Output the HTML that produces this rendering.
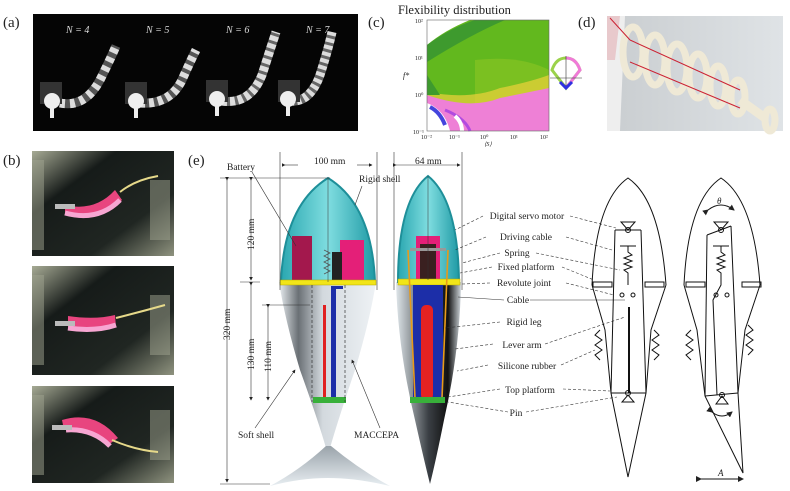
<!DOCTYPE html>
<html><head><meta charset="utf-8"><style>
html,body{margin:0;padding:0;background:#fff;}
svg{display:block;}
text{font-family:"Liberation Serif",serif;fill:#222;}
</style></head><body>
<svg width="790" height="491" viewBox="0 0 790 491" xmlns="http://www.w3.org/2000/svg">
<defs>
<linearGradient id="body1" x1="0" x2="1" y1="0" y2="0">
<stop offset="0" stop-color="#e8edf0"/><stop offset="0.2" stop-color="#6a7075"/><stop offset="0.45" stop-color="#d3d9de"/><stop offset="1" stop-color="#eef2f5"/></linearGradient>
<linearGradient id="body2" x1="0" x2="1"><stop offset="0" stop-color="#dfe6ea"/><stop offset="0.5" stop-color="#3a3f44"/><stop offset="0.8" stop-color="#111"/><stop offset="1" stop-color="#cfd6db"/></linearGradient>
<linearGradient id="cyan" x1="0" x2="1"><stop offset="0" stop-color="#2aa7b0"/><stop offset="0.5" stop-color="#7fdde0"/><stop offset="1" stop-color="#1f9aa5"/></linearGradient>
<linearGradient id="fin" x1="0" x2="0" y1="0" y2="1"><stop offset="0" stop-color="#9aa3aa"/><stop offset="1" stop-color="#e8eef2"/></linearGradient>
<linearGradient id="ph" x1="0" x2="1" y1="0" y2="1"><stop offset="0" stop-color="#a7ab95"/><stop offset="0.3" stop-color="#161b19"/><stop offset="0.7" stop-color="#202622"/><stop offset="1" stop-color="#8f937f"/></linearGradient>
<linearGradient id="dph" x1="0" x2="1"><stop offset="0" stop-color="#c9cdd0"/><stop offset="1" stop-color="#dfe3e6"/></linearGradient>
<marker id="ah" markerWidth="6" markerHeight="6" refX="5" refY="3" orient="auto"><path d="M0,0 L6,3 L0,6 z" fill="#222"/></marker>
</defs>

<!-- (a) -->
<text x="3" y="27" font-size="15">(a)</text>
<rect x="33" y="14" width="325" height="117" fill="#050505"/>
<g font-size="10" font-style="italic" font-family="Liberation Sans,sans-serif">
<text x="66" y="33" style="fill:#ddd">N = 4</text><text x="146" y="33" style="fill:#ddd">N = 5</text>
<text x="226" y="33" style="fill:#ddd">N = 6</text><text x="306" y="33" style="fill:#ddd">N = 7</text></g>
<g fill="none">
<path d="M60,103 Q85,108 100,80 Q110,60 116,46" stroke="#555" stroke-width="9"/>
<path d="M60,103 Q85,108 100,80 Q110,60 116,46" stroke="#ddd" stroke-width="9" stroke-dasharray="5 5"/>
<path d="M140,103 Q170,105 182,80 Q190,62 196,50" stroke="#555" stroke-width="9"/>
<path d="M140,103 Q170,105 182,80 Q190,62 196,50" stroke="#ddd" stroke-width="9" stroke-dasharray="5 4"/>
<path d="M222,101 Q250,105 262,75 Q270,50 276,32" stroke="#666" stroke-width="9"/>
<path d="M222,101 Q250,105 262,75 Q270,50 276,32" stroke="#ddd" stroke-width="9" stroke-dasharray="5 3"/>
<path d="M290,101 Q310,103 320,75 Q328,50 332,32" stroke="#666" stroke-width="9"/>
<path d="M290,101 Q310,103 320,75 Q328,50 332,32" stroke="#ddd" stroke-width="9" stroke-dasharray="4 3"/>
</g>
<g fill="#333"><rect x="40" y="82" width="22" height="22"/><rect x="125" y="82" width="22" height="22"/><rect x="206" y="80" width="22" height="22"/><rect x="278" y="80" width="22" height="22"/></g>
<g fill="#eee"><circle cx="52" cy="101" r="8"/><circle cx="136" cy="101" r="8"/><circle cx="217" cy="99" r="8"/><circle cx="288" cy="99" r="8"/>
<rect x="50" y="104" width="4" height="14"/><rect x="134" y="104" width="4" height="14"/><rect x="215" y="102" width="4" height="14"/><rect x="286" y="102" width="4" height="14"/></g>

<!-- (b) -->
<text x="3" y="165" font-size="15">(b)</text>
<g>
<rect x="32" y="151" width="142" height="105" fill="url(#ph)"/>
<rect x="32" y="266" width="142" height="109" fill="url(#ph)"/>
<rect x="32" y="386" width="142" height="97" fill="url(#ph)"/>
<g fill="#9fa38f" opacity="0.5"><rect x="150" y="180" width="20" height="60"/><rect x="150" y="295" width="20" height="60"/><rect x="150" y="410" width="20" height="50"/><rect x="32" y="160" width="12" height="90"/><rect x="32" y="275" width="12" height="90"/><rect x="32" y="395" width="12" height="80"/></g>
<path d="M65,205 Q95,212 115,190 L122,200 Q98,225 65,215 z" fill="#e8457f"/>
<path d="M65,213 Q98,222 120,200" stroke="#f7a6d2" stroke-width="5" fill="none"/>
<path d="M120,192 Q135,180 158,176" stroke="#e6d98a" stroke-width="2" fill="none"/>
<path d="M68,316 Q95,320 115,315 L116,327 Q95,333 68,330 z" fill="#e8457f"/>
<path d="M68,328 Q95,332 116,325" stroke="#f7a6d2" stroke-width="5" fill="none"/>
<path d="M116,318 Q140,312 165,305" stroke="#e6d98a" stroke-width="2" fill="none"/>
<path d="M62,420 Q95,410 118,438 L108,445 Q92,425 64,430 z" fill="#e8457f"/>
<path d="M66,430 Q92,428 110,446" stroke="#f7a6d2" stroke-width="5" fill="none"/>
<path d="M112,440 Q135,450 158,452" stroke="#e6d98a" stroke-width="2" fill="none"/>
<rect x="55" y="204" width="20" height="5" fill="#bbb"/><rect x="55" y="321" width="20" height="5" fill="#bbb"/><rect x="52" y="425" width="20" height="5" fill="#bbb"/>
</g>

<!-- (c) -->
<text x="368" y="27" font-size="15">(c)</text>
<text x="398" y="14" font-size="12.5">Flexibility distribution</text>
<rect x="427" y="20" width="122" height="111" fill="#62b81e"/>
<path d="M427,20 L470,20 Q445,30 427,45 z" fill="#fff"/>
<path d="M427,45 Q450,28 475,20 L505,20 Q470,35 427,62 z" fill="#3e9a2e"/>
<path d="M475,60 Q520,55 549,70 L549,131 L475,131 z" fill="#8cc523" opacity="0.6"/>
<path d="M427,92 Q470,100 500,88 Q530,82 549,75 L549,131 L427,131 z" fill="#eed13a" opacity="0.7"/>
<path d="M427,95 Q470,110 500,98 Q530,92 549,88 L549,131 L427,131 z" fill="#ee80d6"/>
<path d="M427,75 L440,95 L427,95 z" fill="#3e9a2e"/>
<path d="M427,103 Q445,110 450,131 L427,131 z" fill="#fff"/>
<path d="M430,107 Q440,112 445,125" stroke="#4444dd" stroke-width="4" fill="none"/>
<path d="M445,110 Q465,118 470,131" stroke="#b24be0" stroke-width="3" fill="none"/>
<path d="M455,116 Q462,122 462,131" stroke="#fff" stroke-width="4" fill="none"/>
<rect x="427" y="20" width="122" height="111" fill="none" stroke="#666" stroke-width="0.6"/>
<g font-size="6"><text x="415" y="23">10²</text><text x="415" y="60">10¹</text><text x="415" y="97">10⁰</text><text x="413" y="134">10⁻¹</text>
<text x="421" y="139">10⁻²</text><text x="449" y="139">10⁻¹</text><text x="480" y="139">10⁰</text><text x="510" y="139">10¹</text><text x="540" y="139">10²</text>
<text x="484" y="146" font-style="italic">⟨S⟩</text><text x="403" y="78" font-size="8" font-style="italic">f*</text></g>
<path d="M552,70 Q556,58 566,58 Q576,58 580,70 L566,88 z" fill="none" stroke="#9bd24a" stroke-width="3"/>
<path d="M566,58 Q576,58 580,70 L566,88" fill="none" stroke="#f07ad8" stroke-width="3"/>
<path d="M560,82 L566,88 L572,82" fill="none" stroke="#3030e0" stroke-width="3"/>
<line x1="566" y1="56" x2="566" y2="86" stroke="#333" stroke-width="0.6"/><line x1="550" y1="78" x2="582" y2="78" stroke="#333" stroke-width="0.6"/>

<!-- (d) -->
<text x="578" y="27" font-size="15">(d)</text>
<rect x="607" y="16" width="176" height="115" fill="url(#dph)"/>
<path d="M607,16 L625,16 L620,131 L607,131 z" fill="#eee"/>
<path d="M607,16 L620,16 L615,60 L607,60 z" fill="#e8c9cc"/>
<g fill="none" stroke="#efe9d6" stroke-width="7">
<ellipse cx="633" cy="52" rx="10" ry="25"/><ellipse cx="655" cy="60" rx="10" ry="25"/><ellipse cx="677" cy="68" rx="10" ry="24"/>
<ellipse cx="698" cy="76" rx="9" ry="22"/><ellipse cx="718" cy="86" rx="8" ry="20"/><ellipse cx="738" cy="97" rx="7" ry="17"/>
<path d="M740,100 L765,118" stroke-width="9"/><ellipse cx="770" cy="120" rx="5" ry="11"/></g>
<g stroke="#cc2233" stroke-width="1" fill="none"><path d="M630,40 L740,90"/><path d="M630,62 L740,108"/><path d="M610,18 L630,40"/></g>

<!-- (e) -->
<text x="188" y="165" font-size="15">(e)</text>
<!-- fish 1 -->
<path d="M279,282 Q285,320 300,370 Q318,420 326,448 L330,448 Q338,420 355,370 Q370,320 376,282 z" fill="url(#body1)"/>
<path d="M326,446 Q300,470 270,486 Q300,478 328,478 Q356,478 390,486 Q360,470 331,446 z" fill="url(#fin)"/>
<path d="M281,282 Q284,205 328,178 Q372,205 375,282 z" fill="url(#cyan)" stroke="#1e8f99" stroke-width="2"/>
<rect x="292" y="236" width="20" height="46" fill="#a3184d"/>
<rect x="340" y="240" width="24" height="42" fill="#e41f78"/><rect x="332" y="252" width="10" height="30" fill="#222"/>
<path d="M324,250 l6,3 -6,3 6,3 -6,3 6,3 -6,3 6,3 -6,3" stroke="#555" fill="none" stroke-width="0.8"/>
<rect x="280" y="280" width="96" height="5" fill="#f2e518" stroke="#b5a800" stroke-width="0.5"/>
<rect x="331" y="286" width="5" height="116" fill="#1c2ea8"/><rect x="331" y="286" width="12" height="3" fill="#1c2ea8"/>
<rect x="323" y="305" width="3" height="97" fill="#e02020"/>
<rect x="313" y="397" width="33" height="6" fill="#38b03a"/>
<line x1="312" y1="285" x2="312" y2="402" stroke="#333" stroke-dasharray="3 2" stroke-width="0.7"/>
<line x1="345" y1="285" x2="345" y2="402" stroke="#333" stroke-dasharray="3 2" stroke-width="0.7"/>
<line x1="328" y1="178" x2="328" y2="282" stroke="#333" stroke-width="0.5"/>
<!-- fish 2 -->
<path d="M396,282 Q398,350 415,420 Q424,460 430,484 Q436,460 444,420 Q460,350 461,282 z" fill="url(#body2)"/>
<path d="M398,282 Q398,200 428,176 Q458,200 459,282 z" fill="url(#cyan)" stroke="#1e8f99" stroke-width="2"/>
<rect x="416" y="236" width="24" height="44" fill="#e41f78"/><rect x="420" y="244" width="16" height="36" fill="#3a2020"/>
<rect x="410" y="248" width="36" height="3" fill="#999"/>
<rect x="398" y="279" width="62" height="6" fill="#f2e518" stroke="#b5a800" stroke-width="0.5"/>
<rect x="413" y="285" width="30" height="115" fill="#1c2ea8"/>
<rect x="421" y="305" width="12" height="95" rx="5" fill="#e52222"/>
<line x1="408" y1="250" x2="415" y2="398" stroke="#e79a1a" stroke-width="1.6"/><line x1="448" y1="250" x2="442" y2="398" stroke="#e79a1a" stroke-width="1.6"/>
<rect x="410" y="397" width="35" height="6" fill="#38b03a"/>
<line x1="428" y1="176" x2="428" y2="280" stroke="#333" stroke-width="0.5"/>
<!-- dimensions -->
<g stroke="#333" stroke-width="0.6" fill="none">
<line x1="280" y1="152" x2="280" y2="290"/><line x1="377" y1="152" x2="377" y2="290"/>
<line x1="394" y1="152" x2="394" y2="290"/><line x1="462" y1="152" x2="462" y2="290"/>
<line x1="285" y1="165" x2="298" y2="165" marker-start="url(#ah)"/><line x1="357" y1="165" x2="372" y2="165" marker-end="url(#ah)"/>
<line x1="396" y1="165" x2="460" y2="165" marker-start="url(#ah)" marker-end="url(#ah)"/>
<line x1="220" y1="178" x2="330" y2="178"/><line x1="220" y1="484" x2="270" y2="484"/>
<line x1="227" y1="180" x2="227" y2="482" marker-start="url(#ah)" marker-end="url(#ah)"/>
<line x1="251" y1="180" x2="251" y2="280" marker-start="url(#ah)" marker-end="url(#ah)"/>
<line x1="251" y1="285" x2="251" y2="400" marker-start="url(#ah)" marker-end="url(#ah)"/>
<line x1="262" y1="305" x2="310" y2="305"/><line x1="240" y1="282" x2="260" y2="282"/>
<line x1="268" y1="307" x2="268" y2="400" marker-start="url(#ah)" marker-end="url(#ah)"/>
<line x1="252" y1="172" x2="296" y2="246"/><line x1="362" y1="186" x2="355" y2="205"/>
<line x1="255" y1="428" x2="295" y2="370" marker-end="url(#ah)"/><line x1="380" y1="428" x2="352" y2="360" marker-end="url(#ah)"/>
</g>
<g font-size="9.5">
<text x="314" y="164">100 mm</text><text x="415" y="164">64 mm</text>
<text x="227" y="170">Battery</text><text x="359" y="182">Rigid shell</text>
<text x="238" y="438">Soft shell</text><text x="354" y="438">MACCEPA</text>
<text transform="translate(230,340) rotate(-90)">320 mm</text>
<text transform="translate(254,250) rotate(-90)">120 mm</text>
<text transform="translate(254,370) rotate(-90)">130 mm</text>
<text transform="translate(271,372) rotate(-90)">110 mm</text>
</g>
<!-- callouts -->
<g font-size="9.5" text-anchor="middle">
<text x="527" y="219">Digital servo motor</text><text x="526" y="240">Driving cable</text>
<text x="517" y="256">Spring</text><text x="526" y="270">Fixed platform</text>
<text x="524" y="286">Revolute joint</text><text x="518" y="303">Cable</text>
<text x="524" y="325">Rigid leg</text><text x="522" y="348">Lever arm</text>
<text x="527" y="369">Silicone rubber</text><text x="530" y="393">Top platform</text><text x="516" y="416">Pin</text>
</g>
<g stroke="#333" stroke-width="0.6" fill="none" stroke-dasharray="3 2">
<line x1="483" y1="216" x2="455" y2="230"/><line x1="486" y1="237" x2="455" y2="250"/><line x1="500" y1="253" x2="462" y2="263"/>
<line x1="492" y1="267" x2="460" y2="273"/><line x1="490" y1="283" x2="462" y2="284"/><line x1="504" y1="300" x2="458" y2="297" stroke-dasharray="none"/>
<line x1="500" y1="322" x2="445" y2="328"/><line x1="493" y1="344" x2="455" y2="349"/><line x1="488" y1="365" x2="457" y2="371"/>
<line x1="500" y1="389" x2="448" y2="397"/><line x1="508" y1="412" x2="448" y2="402"/>
<line x1="570" y1="216" x2="616" y2="228"/><line x1="566" y1="237" x2="612" y2="250"/><line x1="536" y1="253" x2="620" y2="270"/>
<line x1="562" y1="267" x2="594" y2="280"/><line x1="566" y1="283" x2="614" y2="295"/><line x1="530" y1="300" x2="625" y2="300" stroke-dasharray="none"/>
<line x1="545" y1="344" x2="625" y2="317"/><line x1="561" y1="365" x2="595" y2="350"/>
<line x1="563" y1="389" x2="610" y2="391"/><line x1="526" y1="412" x2="617" y2="397"/>
</g>
<!-- schematic 1 -->
<g stroke="#111" stroke-width="1" fill="none">
<path d="M592,285 Q596,200 628,178 Q660,200 666,285"/>
<path d="M592,285 L605,330 L611,393 L628,477 L646,393 L651,330 L666,285"/>
<line x1="615" y1="230" x2="611" y2="393"/><line x1="641" y1="230" x2="646" y2="393"/>
<line x1="615" y1="230" x2="641" y2="230"/>
<rect x="593" y="282" width="19" height="5"/><rect x="645" y="282" width="19" height="5"/>
<path d="M628,246 L628,252 l4,3 -8,3 8,3 -8,3 8,3 -8,3 4,3 L628,285"/>
<line x1="620" y1="246" x2="636" y2="246"/>
<circle cx="622" cy="295" r="2"/><circle cx="633" cy="295" r="2"/>
<line x1="629" y1="307" x2="629" y2="393" stroke-width="2"/>
<line x1="611" y1="393" x2="646" y2="393"/>
<path d="M621,222 L635,222 L628,230 z"/><circle cx="628" cy="230" r="2.5"/>
<path d="M622,402 L634,402 L628,395 z"/><circle cx="628" cy="393" r="2.5"/>
<path d="M600,330 l-5,5 7,5 -7,5 7,5 -7,5 5,5"/><path d="M654,330 l5,5 -7,5 7,5 -7,5 7,5 -5,5"/>
</g>
<!-- schematic 2 -->
<g stroke="#111" stroke-width="1" fill="none">
<path d="M684,285 Q688,200 721,178 Q754,200 760,285"/>
<path d="M684,285 L697,330 L705,396 L743,473 L738,393 L745,330 L760,285"/>
<line x1="707" y1="235" x2="705" y2="396"/><line x1="731" y1="226" x2="738" y2="393"/>
<line x1="707" y1="235" x2="731" y2="226"/>
<rect x="686" y="282" width="19" height="5"/><rect x="742" y="282" width="19" height="5"/>
<path d="M721,246 L721,252 l4,3 -8,3 8,3 -8,3 8,3 -8,3 4,3 L721,285 L713,300 L717,395"/>
<line x1="713" y1="246" x2="729" y2="246"/>
<circle cx="716" cy="295" r="2"/><circle cx="727" cy="295" r="2"/>
<line x1="705" y1="396" x2="738" y2="393"/>
<path d="M714,222 L728,222 L721,230 z"/><circle cx="721" cy="230" r="2.5"/>
<path d="M716,404 L728,404 L722,396 z"/><circle cx="722" cy="395" r="2.5"/>
<path d="M691,330 l-5,5 7,5 -7,5 7,5 -7,5 5,5"/><path d="M748,325 l5,5 -7,5 7,5 -7,5 7,5 -5,5"/>
<path d="M708,210 Q721,200 734,210" marker-start="url(#ah)" marker-end="url(#ah)"/>
<path d="M712,412 Q722,420 732,412" marker-start="url(#ah)" marker-end="url(#ah)"/>
<line x1="701" y1="479" x2="743" y2="479" marker-start="url(#ah)" marker-end="url(#ah)"/>
</g>
<text x="717" y="204" font-size="9" font-style="italic">θ</text>
<text x="718" y="476" font-size="9" font-style="italic">A</text>
</svg>
</body></html>
